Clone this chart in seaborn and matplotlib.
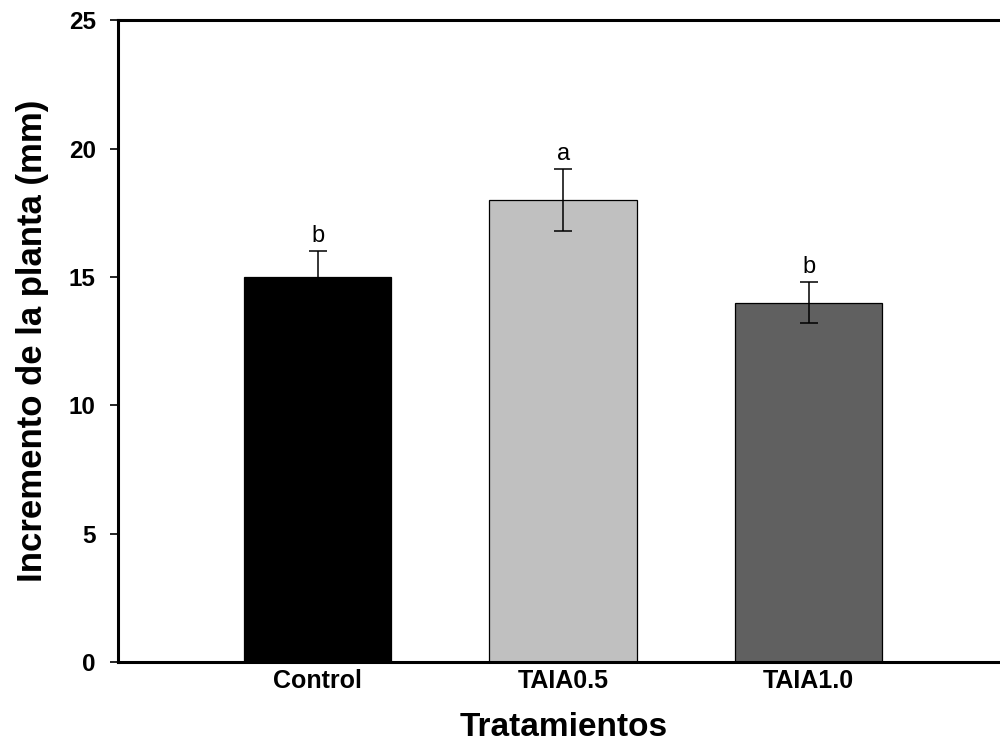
import matplotlib
matplotlib.use("Agg")
import matplotlib.pyplot as plt
import seaborn as sns
import pandas as pd

categories = ["Control", "TAIA0.5", "TAIA1.0"]
means = [15.0, 18.0, 14.0]
errors = [1.0, 1.2, 0.8]
letters = ["b", "a", "b"]
colors = ["#000000", "#c0c0c0", "#606060"]
yticks = [0, 5, 10, 15, 20, 25]

sns.set_style("ticks")
plt.rcParams["font.family"] = ["Liberation Sans", "DejaVu Sans"]
plt.rcParams.update({
    "text.color": "black", "axes.labelcolor": "black",
    "xtick.color": "black", "ytick.color": "black",
    "axes.edgecolor": "black",
})

df = pd.DataFrame({"Tratamiento": categories, "Incremento": means})

fig = plt.figure(figsize=(10, 7.42), dpi=100)
ax = fig.add_axes([0.118, 0.1078, 0.892, 0.865])

sns.barplot(data=df, x="Tratamiento", y="Incremento", hue="Tratamiento",
            palette=colors, order=categories, hue_order=categories,
            width=0.6, errorbar=None, edgecolor="black", linewidth=0.9,
            legend=False, saturation=1, ax=ax)

pos = list(range(len(categories)))
ax.errorbar(pos, means, yerr=errors, fmt="none", ecolor="black",
            elinewidth=1.1, capsize=6.5, capthick=1.1, zorder=5)

for p, m, e, l in zip(pos, means, errors, letters):
    ax.annotate(l, xy=(p, m + e), xytext=(0, 3), textcoords="offset points",
                ha="center", va="bottom", fontsize=17)

ax.set_xlim(-0.813, 2.82)
ax.set_ylim(0, 25)
ax.set_yticks(yticks)
ax.set_yticklabels([str(t) for t in yticks], fontsize=17.5, fontweight="bold")
ax.set_xticks(pos)
ax.set_xticklabels(categories, fontsize=18, fontweight="bold")
ax.tick_params(axis="x", length=0, pad=5)
ax.tick_params(axis="y", length=6, width=1.2, pad=10, direction="out")

for s in ["left", "bottom", "top", "right"]:
    ax.spines[s].set_linewidth(2.2)
    ax.spines[s].set_color("black")
    ax.spines[s].set_visible(True)

ax.set_xlabel("Tratamientos", fontsize=24, fontweight="bold", labelpad=14)
ax.set_ylabel("Incremento de la planta (mm)", fontsize=25, fontweight="bold", labelpad=14)

fig.savefig("out.png", dpi=100)
